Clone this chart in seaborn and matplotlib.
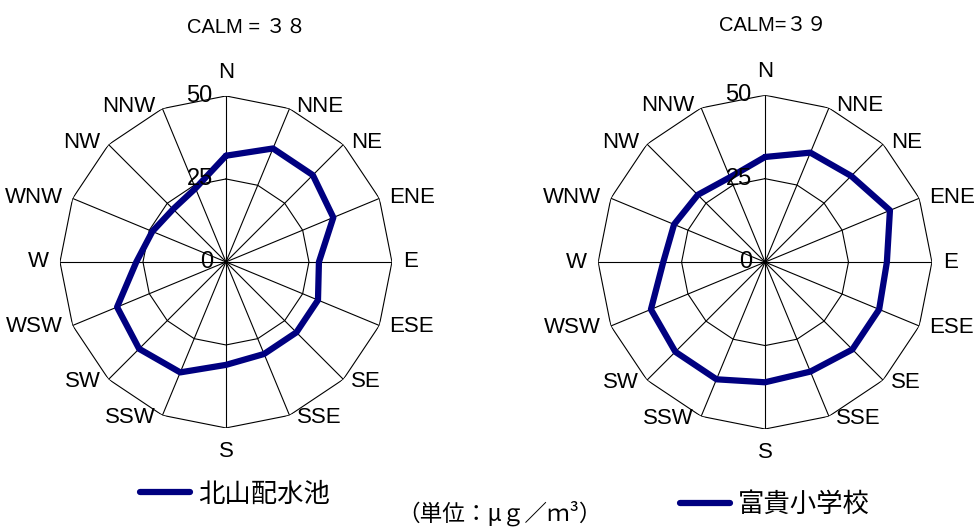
import numpy as np
import pandas as pd
import matplotlib
matplotlib.use('Agg')
import matplotlib.pyplot as plt
import seaborn as sns
from matplotlib.lines import Line2D

# 風向別濃度（単位: μg/m³）
directions = ['N', 'NNE', 'NE', 'ENE', 'E', 'ESE', 'SE', 'SSE',
              'S', 'SSW', 'SW', 'WSW', 'W', 'WNW', 'NW', 'NNW']
kitayama = [32, 37, 37, 35, 28, 30, 30, 30, 31, 36, 37, 35.5, 27, 24, 22.5, 24]
fuki = [31.5, 35.5, 36.5, 40.5, 36.5, 37, 37, 35.5, 36, 38, 38, 37, 30.5, 29.5, 28.5, 27.5]
station_names = ['北山配水池', '富貴小学校']
calm_labels = ['CALM = ３８', 'CALM=３９']
radial_ticks = [0, 25, 50]
unit_label = '（単位：μｇ／ｍ³）'

sns.set_style('white')
label_font = ['Liberation Sans', 'Noto Sans CJK JP']
cjk_font = ['Noto Sans CJK JP', 'DejaVu Sans']
plt.rcParams['font.family'] = label_font
plt.rcParams['text.color'] = 'black'

navy = '#000080'

fig = plt.figure(figsize=(9.78, 5.29), dpi=100)
ax_left = fig.add_axes([0.0613, 0.191, 0.3395, 0.6276], projection='polar')
ax_right = fig.add_axes([0.6115, 0.189, 0.3415, 0.631], projection='polar')


def draw_rose(ax, values):
    theta = np.linspace(0, 2 * np.pi, len(directions), endpoint=False)
    ax.set_theta_zero_location('N')
    ax.set_theta_direction(-1)
    ax.set_ylim(0, radial_ticks[-1])
    ax.set_xticks([])
    ax.set_yticks([])
    ax.grid(False)
    ax.spines['polar'].set_visible(False)
    ax.set_facecolor('white')

    # 多角形の目盛線とスポーク
    closed_theta = np.append(theta, 2 * np.pi)
    for r in radial_ticks[1:]:
        ax.plot(closed_theta, np.full(len(closed_theta), r), color='black', lw=0.8)
    for t in theta:
        ax.plot([t, t], [0, radial_ticks[-1]], color='black', lw=0.8)

    df = pd.DataFrame({'theta': closed_theta, 'value': values + values[:1]})
    sns.lineplot(data=df, x='theta', y='value', sort=False, estimator=None, ax=ax,
                 color=navy, lw=4.5, solid_joinstyle='round')
    ax.set_xlabel('')
    ax.set_ylabel('')

    # 方位ラベル（右側は左寄せ、左側は右寄せ）
    for t, d in zip(theta, directions):
        s, c = np.sin(t), np.cos(t)
        if abs(s) < 0.01:
            ax.annotate(d, xy=(t, radial_ticks[-1]), xytext=(0, 17 * np.sign(c)),
                        textcoords='offset points', ha='center', va='center', fontsize=16)
        else:
            dx = 5 + 3 * s ** 4
            ax.annotate(d, xy=(t, radial_ticks[-1]), xytext=(dx * np.sign(s), 2 * c),
                        textcoords='offset points', ha='left' if s > 0 else 'right',
                        va='center', fontsize=16)
    for v in radial_ticks:
        ax.annotate(str(v), xy=(0, v), xytext=(-9.5, 0), textcoords='offset points',
                    ha='right', va='center', fontsize=17)


draw_rose(ax_left, kitayama)
draw_rose(ax_right, fuki)

fig.text(0.2525, 0.949, calm_labels[0], ha='center', va='center', fontsize=14.5)
fig.text(0.7905, 0.951, calm_labels[1], ha='center', va='center', fontsize=14.5)

for name, x, y in [(station_names[0], 0.143, 0.066), (station_names[1], 0.695, 0.046)]:
    h = Line2D([], [], color=navy, lw=4.5, solid_capstyle='round')
    fig.legend(handles=[h], labels=[name], loc='center left', bbox_to_anchor=(x, y),
               frameon=False, borderpad=0, borderaxespad=0, handlelength=1.9,
               handletextpad=0.3, prop={'family': cjk_font, 'size': 19})

fig.text(0.511, 0.03, unit_label, ha='center', va='center', fontsize=16.3, family=cjk_font)

fig.savefig('out.png', dpi=100)
